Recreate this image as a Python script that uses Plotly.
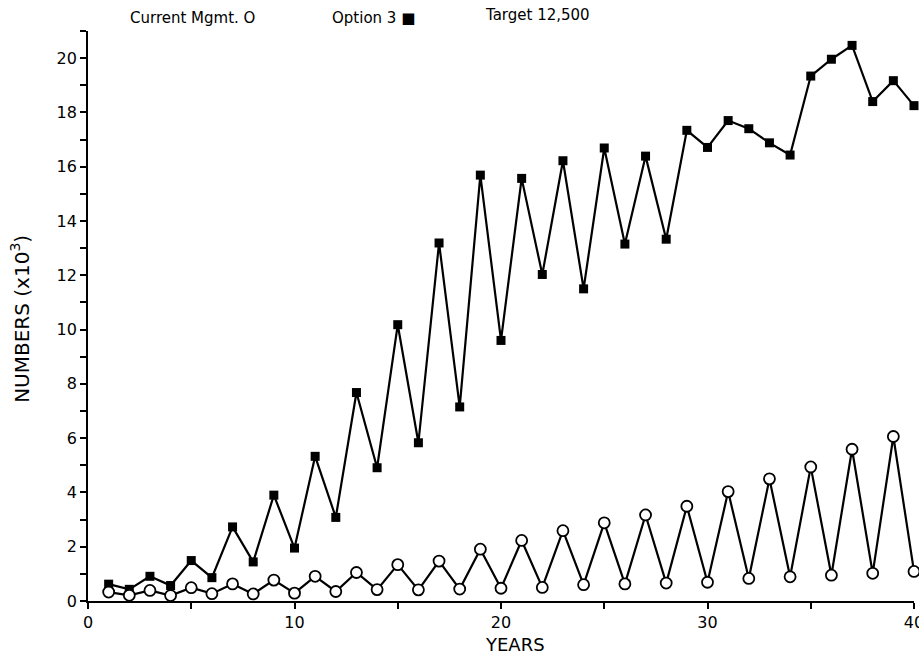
import plotly.graph_objects as go

# Simulated population (thousands) over 40 years
years = list(range(1, 41))

current_mgmt = [0.33, 0.21, 0.39, 0.20, 0.49, 0.27, 0.63, 0.26, 0.77, 0.29,
                0.91, 0.35, 1.05, 0.42, 1.34, 0.41, 1.47, 0.44, 1.91, 0.47,
                2.23, 0.50, 2.59, 0.60, 2.88, 0.63, 3.17, 0.66, 3.49, 0.69,
                4.03, 0.83, 4.50, 0.89, 4.94, 0.95, 5.59, 1.02, 6.06, 1.09]

option_3 = [0.62, 0.43, 0.91, 0.57, 1.49, 0.86, 2.73, 1.44, 3.90, 1.95,
            5.33, 3.08, 7.68, 4.91, 10.18, 5.83, 13.19, 7.15, 15.69, 9.60,
            15.57, 12.03, 16.22, 11.50, 16.69, 13.15, 16.39, 13.33, 17.34, 16.71,
            17.70, 17.40, 16.88, 16.43, 19.34, 19.96, 20.47, 18.40, 19.17, 18.25]

x_ticks = [0, 10, 20, 30, 40]
y_ticks = [0, 2, 4, 6, 8, 10, 12, 14, 16, 18, 20]

FONT = "DejaVu Sans"

fig = go.Figure()

fig.add_trace(go.Scatter(
    x=years, y=option_3, mode="lines+markers", name="Option 3",
    line=dict(color="black", width=2.2),
    marker=dict(symbol="square", size=9, color="black"),
    cliponaxis=False,
))

fig.add_trace(go.Scatter(
    x=years, y=current_mgmt, mode="lines+markers", name="Current Mgmt.",
    line=dict(color="black", width=2.2),
    marker=dict(symbol="circle", size=11, color="white",
                line=dict(color="black", width=1.8)),
    cliponaxis=False,
))

axis_common = dict(
    showline=True, linecolor="black", linewidth=1.8,
    showgrid=False, zeroline=False,
    ticks="outside", ticklen=6, tickwidth=1.6, tickcolor="black",
    tickfont=dict(family=FONT, size=16, color="black"),
    ticklabeloverflow="allow",
    automargin=False,
)

fig.update_xaxes(
    range=[0, 40], tickmode="array", tickvals=x_ticks,
    ticktext=[str(v) for v in x_ticks],
    minor=dict(dtick=5, tick0=0, ticks="outside", ticklen=6,
               tickwidth=1.6, tickcolor="black"),
    **axis_common,
)
fig.update_yaxes(
    range=[0, 21], tickmode="array", tickvals=y_ticks,
    ticktext=[str(v) for v in y_ticks],
    minor=dict(dtick=1, tick0=0, ticks="outside", ticklen=6,
               tickwidth=1.6, tickcolor="black"),
    **axis_common,
)

annotations = [
    dict(text="Current Mgmt. O", x=0.048, y=1.0228, xanchor="left"),
    dict(text="Option 3 ■", x=0.293, y=1.0228, xanchor="left"),
    dict(text="Target 12,500", x=0.478, y=1.028, xanchor="left"),
]
for a in annotations:
    fig.add_annotation(xref="paper", yref="paper", yanchor="middle",
                       showarrow=False,
                       font=dict(family=FONT, size=15, color="black"), **a)

fig.add_annotation(text="YEARS", xref="paper", yref="paper",
                   x=0.517, y=-0.077, xanchor="center", yanchor="middle",
                   showarrow=False, font=dict(family=FONT, size=18, color="black"))
fig.add_annotation(text="NUMBERS (x10<sup>3</sup>)", xref="paper", yref="paper",
                   x=-0.0823, y=0.495, xanchor="center", yanchor="middle",
                   textangle=-90, showarrow=False,
                   font=dict(family=FONT, size=20, color="black"))

fig.update_layout(
    width=919, height=660,
    margin=dict(l=88, r=5, t=31, b=59, autoexpand=False),
    paper_bgcolor="white", plot_bgcolor="white",
    showlegend=False,
)

fig.write_html("out.html")
